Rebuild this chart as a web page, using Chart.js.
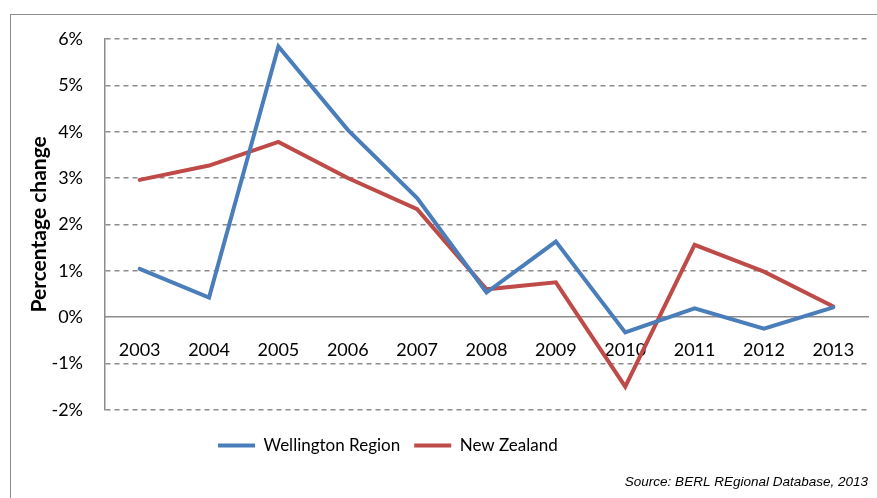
<!DOCTYPE html>
<html>
<head>
<meta charset="utf-8">
<script src="https://cdn.jsdelivr.net/npm/chart.js@4"></script>
<style>
  html, body { margin: 0; padding: 0; background: #fff; overflow: hidden; }
  #wrap { position: relative; width: 877px; height: 498px; }
  #frame { position: absolute; left: 10px; top: 14px; width: 900px; height: 600px; border: 1px solid #8c8c8c; }
  canvas { position: absolute; left: 0; top: 0; }
</style>
</head>
<body>
<div id="wrap">
  <div id="frame"></div>
  <canvas id="growth" width="877" height="498"></canvas>
</div>
<script>
const years = ['2003', '2004', '2005', '2006', '2007', '2008', '2009', '2010', '2011', '2012', '2013'];
const wellington = [1.04, 0.42, 5.84, 4.04, 2.57, 0.53, 1.63, -0.33, 0.19, -0.25, 0.21];
const newZealand = [2.96, 3.27, 3.78, 3.0, 2.33, 0.6, 0.75, -1.5, 1.56, 0.98, 0.23];

const font = 'Lato, "Open Sans", sans-serif';

// move legend to the same spot as the original
const legendShift = {
  id: 'legendShift',
  afterLayout(chart) {
    const lg = chart.legend;
    const h = lg.bottom - lg.top;
    lg.left = 204;
    lg.right = 877;
    lg.top = 423;
    lg.bottom = 423 + h;
  }
};

new Chart(document.getElementById('growth').getContext('2d'), {
  type: 'line',
  data: {
    labels: years,
    datasets: [
      {
        label: 'Wellington Region',
        data: wellington,
        borderColor: '#4a7ebb',
        backgroundColor: '#4a7ebb',
        borderWidth: 4,
        borderCapStyle: 'round',
        pointRadius: 0,
        tension: 0,
        fill: false
      },
      {
        label: 'New Zealand',
        data: newZealand,
        borderColor: '#be4b48',
        backgroundColor: '#be4b48',
        borderWidth: 4,
        borderCapStyle: 'round',
        pointRadius: 0,
        tension: 0,
        fill: false
      }
    ]
  },
  options: {
    responsive: false,
    animation: false,
    layout: { padding: { top: 39, right: 9, left: 0, bottom: 0 } },
    scales: {
      x: {
        position: { y: 0 },
        offset: true,
        grid: { display: false, drawTicks: false },
        border: { display: true, color: '#8c8c8c', width: 1.5 },
        ticks: { color: '#000', padding: 22, maxRotation: 0, font: { family: font, size: 18 } }
      },
      y: {
        min: -2,
        max: 6,
        afterFit(scale) { scale.width = 105; },
        ticks: {
          stepSize: 1,
          color: '#000',
          padding: 22,
          font: { family: font, size: 18 },
          callback: v => v + '%'
        },
        grid: {
          drawTicks: false,
          color: ctx => ctx.tick && ctx.tick.value === 0 ? 'rgba(0,0,0,0)' : '#8c8c8c',
          lineWidth: 1.5
        },
        border: { display: true, color: '#8c8c8c', width: 1.5, dash: [5, 4] },
        title: {
          display: true,
          text: 'Percentage change',
          color: '#000',
          padding: { top: 27, bottom: 0 },
          font: { family: font, size: 21, weight: 'bold' }
        }
      }
    },
    plugins: {
      legend: {
        position: 'bottom',
        align: 'start',
        labels: {
          usePointStyle: true,
          pointStyle: 'line',
          pointStyleWidth: 37,
          color: '#000',
          padding: 14,
          font: { family: font, size: 17 }
        }
      },
      title: {
        display: true,
        position: 'bottom',
        align: 'end',
        text: 'Source: BERL REgional Database, 2013',
        color: '#000',
        padding: { top: 23, bottom: 8 },
        font: { family: '"Liberation Sans", Arial, sans-serif', size: 13.5, style: 'italic', weight: 'normal' }
      },
      tooltip: { enabled: false }
    }
  },
  plugins: [legendShift]
});
</script>
</body>
</html>
